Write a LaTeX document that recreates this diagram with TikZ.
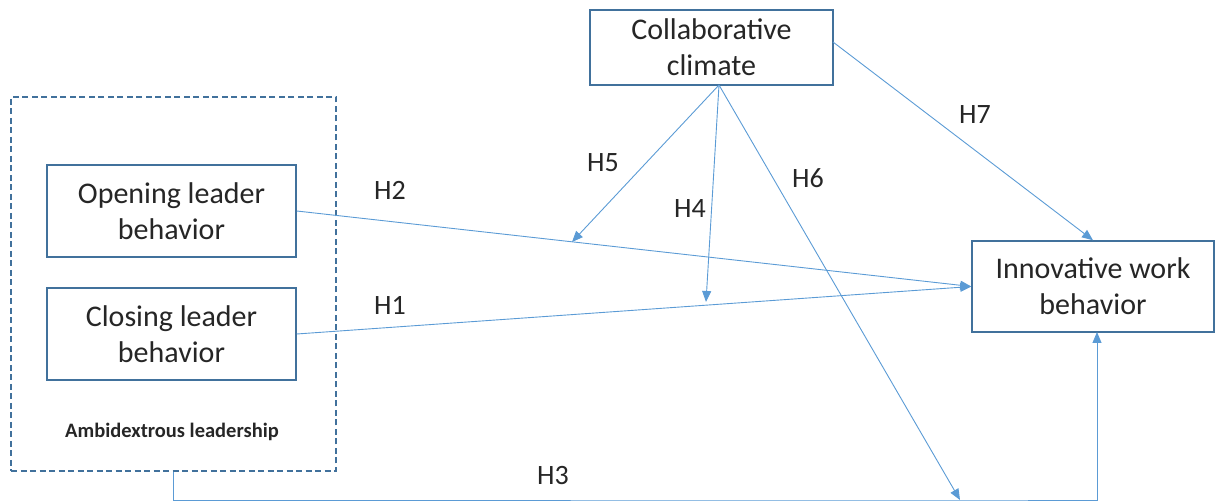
\documentclass[tikz,border=0pt]{standalone}
\usepackage{fontspec}
\setmainfont{Carlito}
\usetikzlibrary{arrows.meta,positioning}
\definecolor{boxblue}{RGB}{65,113,156}
\definecolor{linkblue}{RGB}{91,155,213}

\begin{document}
\begin{tikzpicture}[x=1pt, y=-1pt,
  factor/.style={draw=boxblue, line width=1.5pt, fill=white, inner sep=0pt, align=center,
    font=\fontsize{30}{36}\selectfont, text=black!85},
  link/.style={draw=linkblue, line width=0.9pt, -{Triangle[length=11pt,width=9pt]}},
  hyp/.style={font=\fontsize{28}{32}\selectfont, text=black!85}]
\useasboundingbox (0,0) rectangle (1216,502);

% Ambidextrous leadership group
\node[draw=boxblue, line width=1.5pt, dash pattern=on 6pt off 3.5pt, minimum width=325pt, minimum height=374pt] (amb) at (173.5,284) {};
\node[font=\bfseries\fontsize{20.5}{24}\selectfont, text=black!85] (ambtxt) at (172,432) {Ambidextrous leadership};

% Factors
\node[factor, minimum width=249pt, minimum height=92pt] (opening) at (171.5,211) {Opening leader\\behavior};
\node[factor, minimum width=249pt, minimum height=92pt] (closing) at (171.5,334) {Closing leader\\behavior};
\node[factor, minimum width=243pt, minimum height=75pt] (collab) at (711.5,47.5) {Collaborative\\climate};
\node[factor, minimum width=242pt, minimum height=91pt] (innov) at (1093,286.5) {Innovative work\\behavior};

% Free ends of the moderating paths
\coordinate (cfoot) at (719,85);
\coordinate (cside) at (833,42);
\coordinate (tipH5) at (572,242);
\coordinate (tipH4) at (706,302);
\coordinate (tipH6) at (960,500);
\coordinate (ifoot) at (1097,332);

% Main effects
\draw[link] (opening.east) -- (innov.west);
\draw[link] (closing.east) -- (innov.west);
\draw[link] (amb.south) |- (tipH6) -| (ifoot);

% Moderation
\draw[link] (cfoot) -- (tipH5);
\draw[link] (cfoot) -- (tipH4);
\draw[link] (cfoot) -- (tipH6);
\draw[link] (cside) -- (innov.north);

% Hypotheses
\node[hyp] (h1) at (390,305) {H1};
\node[hyp] (h2) at (390,190) {H2};
\node[hyp] (h3) at (553,476) {H3};
\node[hyp] (h4) at (690,209) {H4};
\node[hyp] (h5) at (603,163) {H5};
\node[hyp] (h6) at (808,178) {H6};
\node[hyp] (h7) at (975,115) {H7};
\end{tikzpicture}
\end{document}
